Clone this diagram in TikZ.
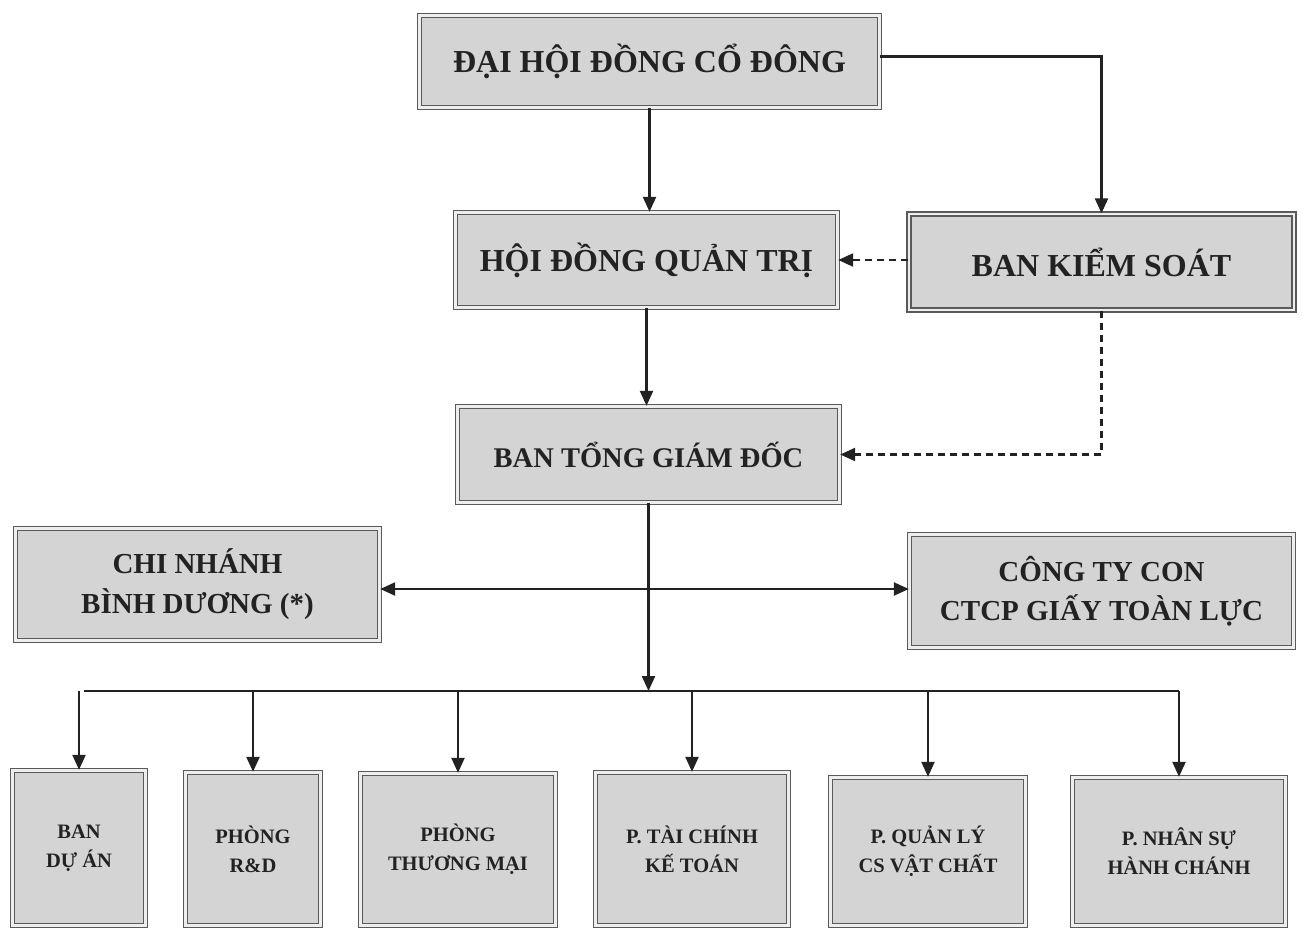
\documentclass[tikz,border=0pt]{standalone}
\usepackage{fontspec}
\setmainfont{Liberation Serif}
\usetikzlibrary{arrows.meta}
\definecolor{boxfill}{HTML}{D4D4D4}
\definecolor{boxline}{HTML}{5A5A5A}
\definecolor{boxgap}{HTML}{EEEEEE}
\definecolor{ink}{HTML}{222222}
\tikzset{
  orgbox/.style={draw=boxline, line width=1.4pt, double=boxgap, double distance=2.8pt,
    fill=boxfill, inner sep=0pt, align=center, text=ink, font=\bfseries},
  bigtext/.style={font=\bfseries\fontsize{32}{40}\selectfont},
  midtext/.style={font=\bfseries\fontsize{29}{40}\selectfont},
  smalltext/.style={font=\bfseries\fontsize{20.5}{29}\selectfont},
  conn/.style={draw=ink, line width=2.3pt},
  arr/.style={conn, -{Triangle[length=15pt, width=13pt]}},
  biarr/.style={conn, {Triangle[length=15pt, width=13pt]}-{Triangle[length=15pt, width=13pt]}},
  dasharr/.style={arr, dash pattern=on 7pt off 5pt},
}
\begin{document}
\begin{tikzpicture}[x=1pt, y=-1pt]
\path[use as bounding box, fill=white] (0,0) rectangle (1302,930);

% top levels
\node[orgbox, bigtext, minimum width=460pt, minimum height=92pt] (dh) at (649.5,61.5) {ĐẠI HỘI ĐỒNG CỔ ĐÔNG};
\node[orgbox, bigtext, minimum width=382pt, minimum height=95pt] (hd) at (646.5,260) {HỘI ĐỒNG QUẢN TRỊ};
\node[orgbox, bigtext, minimum width=385pt, minimum height=96pt] (bks) at (1101.5,262) {BAN KIỂM SOÁT};
\node[orgbox, font=\bfseries\fontsize{28.5}{36}\selectfont, minimum width=382pt, minimum height=96pt] (btgd) at (648.5,454.5) {BAN TỔNG GIÁM ĐỐC};

% side units
\node[orgbox, midtext, minimum width=364pt, minimum height=112pt] (cn) at (197.5,584.5) {CHI NHÁNH\\BÌNH DƯƠNG (*)};
\node[orgbox, font=\bfseries\fontsize{29}{39}\selectfont, minimum width=384pt, minimum height=113pt] (cty) at (1101.5,591) {CÔNG TY CON\\CTCP GIẤY TOÀN LỰC};

% departments
\node[orgbox, smalltext, minimum width=133pt, minimum height=155pt] (b1) at (79,848) {BAN\\DỰ ÁN};
\node[orgbox, smalltext, minimum width=135pt, minimum height=153pt] (b2) at (253,849) {PHÒNG\\R\&D};
\node[orgbox, smalltext, minimum width=195pt, minimum height=152pt] (b3) at (458,849.5) {PHÒNG\\THƯƠNG MẠI};
\node[orgbox, smalltext, minimum width=193pt, minimum height=153pt] (b4) at (692,849) {P. TÀI CHÍNH\\KẾ TOÁN};
\node[orgbox, smalltext, minimum width=195pt, minimum height=148pt] (b5) at (928,851.5) {P. QUẢN LÝ\\CS VẬT CHẤT};
\node[orgbox, smalltext, minimum width=213pt, minimum height=148pt] (b6) at (1179,851.5) {P. NHÂN SỰ\\HÀNH CHÁNH};

% connectors
\coordinate (bus) at (648,691);
\coordinate (hline) at (648,589);
\coordinate (busL) at (84,691);

\draw[arr] (dh.south) -- (dh.south |- hd.north);
\draw[arr] ([yshift=5pt]dh.east) -| (bks.north);
\draw[dasharr] (bks.west |- hd.east) -- (hd.east);
\draw[dasharr] (bks.south) |- (btgd.east);
\draw[arr] (hd.south) -- (hd.south |- btgd.north);
\draw[arr] (btgd.south) -- (btgd.south |- bus);
\draw[biarr] (cn.east |- hline) -- (cty.west |- hline);

\draw[conn] (busL) -- (b6.north |- bus);
\draw[arr] (b1.north |- busL) -- (b1.north);
\draw[arr] (b2.north |- bus) -- (b2.north);
\draw[arr] (b3.north |- bus) -- (b3.north);
\draw[arr] (b4.north |- bus) -- (b4.north);
\draw[arr] (b5.north |- bus) -- (b5.north);
\draw[arr] (b6.north |- bus) -- (b6.north);
\end{tikzpicture}
\end{document}
